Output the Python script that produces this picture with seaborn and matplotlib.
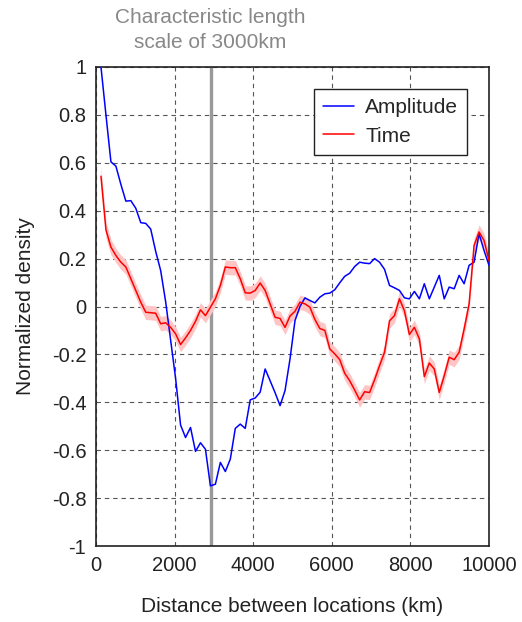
import numpy as np
import pandas as pd
import matplotlib
matplotlib.use("Agg")
import matplotlib.pyplot as plt
import seaborn as sns
from matplotlib.lines import Line2D

# Distance bins (km)
distance = np.linspace(126.6, 10000, 79)

amplitude = [1.0, 0.80, 0.604, 0.586, 0.51, 0.44, 0.442, 0.41, 0.35, 0.347,
             0.323, 0.23, 0.15, 0.02, -0.14, -0.30, -0.495, -0.547, -0.505, -0.605,
             -0.569, -0.596, -0.749, -0.742, -0.651, -0.689, -0.637, -0.509, -0.491, -0.509,
             -0.39, -0.382, -0.358, -0.261, -0.31, -0.36, -0.414, -0.351, -0.219, -0.059,
             0.0, 0.036, 0.025, 0.015, 0.039, 0.053, 0.056, 0.07, 0.099, 0.126,
             0.139, 0.167, 0.185, 0.181, 0.179, 0.2, 0.185, 0.155, 0.088, 0.078,
             0.067, 0.036, 0.032, 0.063, 0.032, 0.095, 0.032, 0.081, 0.13, 0.032,
             0.081, 0.074, 0.13, 0.095, 0.172, 0.185, 0.304, 0.234, 0.172]

time_vals = [0.544, 0.32, 0.248, 0.213, 0.185, 0.165, 0.116, 0.067, 0.018, -0.024,
             -0.026, -0.028, -0.072, -0.068, -0.087, -0.114, -0.159, -0.131, -0.10, -0.062,
             -0.014, -0.038, -0.003, 0.032, 0.088, 0.165, 0.162, 0.162, 0.116, 0.057,
             0.056, 0.067, 0.098, 0.067, 0.011, -0.045, -0.05, -0.087, -0.04, -0.02,
             0.018, 0.011, -0.003, -0.054, -0.092, -0.10, -0.177, -0.198, -0.222, -0.279,
             -0.31, -0.349, -0.39, -0.356, -0.359, -0.306, -0.247, -0.191, -0.06, -0.038,
             0.032, -0.018, -0.117, -0.087, -0.135, -0.293, -0.236, -0.261, -0.359, -0.289,
             -0.212, -0.222, -0.191, -0.094, 0.011, 0.255, 0.311, 0.276, 0.192]

time_err = [0.04, 0.035, 0.032] + [0.03] * 76

xticks = [0, 2000, 4000, 6000, 8000, 10000]
yticks = [-1, -0.8, -0.6, -0.4, -0.2, 0, 0.2, 0.4, 0.6, 0.8, 1]
ytick_labels = ["-1", "-0.8", "-0.6", "-0.4", "-0.2", "0", "0.2", "0.4", "0.6", "0.8", "1"]
char_length = 2920

sns.set_style("white")
plt.rcParams["font.family"] = ["Liberation Sans", "DejaVu Sans"]

df = pd.DataFrame({
    "Distance": np.concatenate([distance, distance]),
    "Density": np.concatenate([amplitude, time_vals]),
    "Series": ["Amplitude"] * len(distance) + ["Time"] * len(distance),
})

fig = plt.figure(figsize=(5.22, 6.22), dpi=100)
ax = fig.add_axes([96 / 522, 1 - 546 / 622, (489 - 96) / 522, (546 - 67) / 622])

t = np.array(time_vals)
e = np.array(time_err)
ax.fill_between(distance, t - e, t + e, color="#ffc4c4", lw=0, zorder=2)

ax.axvline(char_length, color="#999999", lw=2.4, zorder=1.5)

sns.lineplot(data=df, x="Distance", y="Density", hue="Series",
             palette={"Amplitude": "#0000ff", "Time": "#ff0000"},
             lw=1.1, ax=ax, zorder=3, estimator=None, legend=False)

ax.set_xlim(0, 10000)
ax.set_ylim(-1, 1)
ax.set_xticks(xticks)
ax.set_xticklabels([str(v) for v in xticks])
ax.set_yticks(yticks)
ax.set_yticklabels(ytick_labels)
ax.tick_params(axis="both", length=0, labelsize=14.5, colors="#222222")
ax.tick_params(axis="x", pad=7)
ax.tick_params(axis="y", pad=7)
ax.grid(True, color="#555555", lw=0.8, ls=(0, (4, 3.5)))
for s in ax.spines.values():
    s.set_color("#222222")
    s.set_linewidth(1.2)
ax.set_xlabel("Distance between locations (km)", fontsize=15, labelpad=16, color="#222222")
ax.set_ylabel("Normalized density", fontsize=15, labelpad=12, color="#222222")

handles = [Line2D([], [], color="#0000ff", lw=1.1), Line2D([], [], color="#ff0000", lw=1.1)]
leg = ax.legend(handles, ["Amplitude", "Time"], loc="upper left",
                bbox_to_anchor=((314 - 96) / 393, 1 - (89 - 67) / 479),
                fontsize=15, frameon=True, fancybox=False, framealpha=1,
                edgecolor="#222222", borderpad=0.45, handlelength=1.45,
                handletextpad=0.55, labelspacing=0.45, borderaxespad=0)
leg.get_frame().set_linewidth(1.0)

fig.text(210 / 522, 1 - 30 / 622, "Characteristic length\nscale of 3000km",
         ha="center", va="center", fontsize=15, color="#888888", linespacing=1.35)

fig.savefig("out.png", dpi=100)
